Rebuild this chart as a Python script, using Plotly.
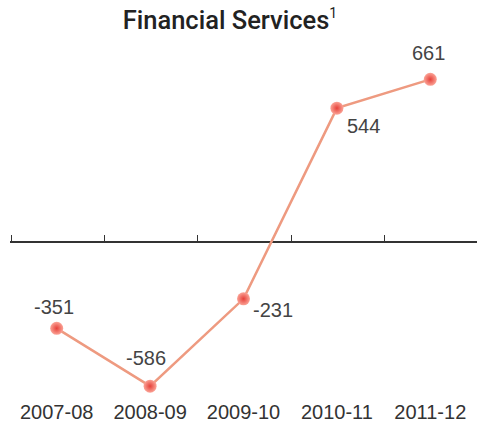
import plotly.graph_objects as go

categories = ["2007-08", "2008-09", "2009-10", "2010-11", "2011-12"]
values = [-351, -586, -231, 544, 661]
label_dx = [-3, -4, 29, 27, -2]
label_dy = [21, 28, -11, -18, 26]

ymin, ymax = -622, 821
FONT = "Liberation Sans"
n = len(categories)

fig = go.Figure()
fig.add_trace(go.Scatter(
    x=categories, y=values, mode="lines+markers",
    line=dict(color="#ee9a80", width=2.5),
    marker=dict(size=13, color="#fba396",
                gradient=dict(type="radial", color="#e6413a"),
                line=dict(width=0)),
    cliponaxis=False, showlegend=False, hoverinfo="skip"))
# invisible trace for the zero axis (category index positions)
fig.add_trace(go.Scatter(x=list(range(n)), y=[0]*n, xaxis="x2",
                         mode="markers", marker=dict(opacity=0), showlegend=False,
                         hoverinfo="skip"))

for c, v, dx, dy in zip(categories, values, label_dx, label_dy):
    fig.add_annotation(x=c, y=v, text=str(v), showarrow=False,
                       xshift=dx, yshift=dy, xanchor="center", yanchor="middle",
                       font=dict(size=20, color="#444444", family=FONT))

fig.update_layout(
    width=477, height=426,
    margin=dict(l=8, r=0, t=40, b=31),
    paper_bgcolor="white", plot_bgcolor="white",
    font=dict(family=FONT, color="#333333"),
    title=dict(text="Financial Services<sup><span style='font-size:14px;font-weight:400'>1</span></sup>",
               x=0.482, xanchor="center", y=0.953, yanchor="middle",
               font=dict(size=25.5, color="#222222", family="Roboto", weight=500)),
    xaxis=dict(type="category", categoryorder="array", categoryarray=categories,
               domain=[2 / 469, 1],
               range=[-0.5, n - 0.5], showline=False, showgrid=False, zeroline=False,
               ticks="", ticklabelstandoff=3, tickfont=dict(size=20, color="#333333")),
    xaxis2=dict(type="linear", range=[-0.5 - 2 / (467 / n), n - 0.5], overlaying="x",
                anchor="free", domain=[0, 1],
                position=(0 - ymin) / (ymax - ymin), side="bottom",
                tickmode="array", tickvals=[i - 0.5 for i in range(n)],
                showline=True, linecolor="#333333", linewidth=1.6,
                ticks="inside", ticklen=6, tickwidth=1.3,
                tickcolor="#333333", showticklabels=False, showgrid=False,
                zeroline=False, layer="below traces"),
    yaxis=dict(range=[ymin, ymax], visible=False, showgrid=False, zeroline=False),
)

fig.write_html("out.html", config={"displayModeBar": False},
               post_script="document.body.style.margin='0';")
